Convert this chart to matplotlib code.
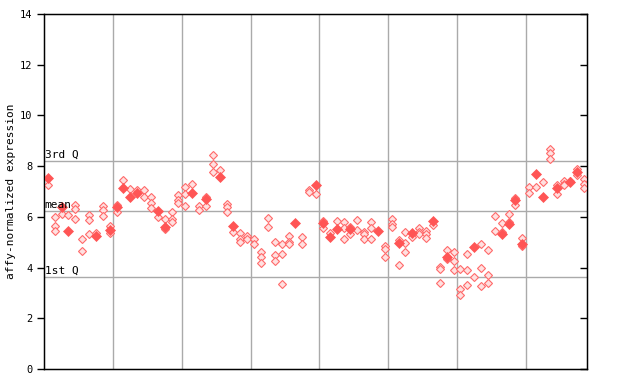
import matplotlib
matplotlib.use("Agg")
import matplotlib.pyplot as plt

# per-sample values: filled (highlighted) points and hollow (replicate) points
filled_map = {0: [7.54], 2: [6.40], 3: [5.46], 7: [5.25], 9: [5.47], 10: [6.38],
              11: [7.15], 12: [6.80], 13: [6.95], 16: [6.23], 17: [5.59], 21: [6.95],
              23: [6.70], 25: [7.57], 27: [5.64], 36: [5.74], 39: [7.27], 40: [5.74],
              41: [5.22], 42: [5.53], 44: [5.53], 48: [5.44], 51: [4.96], 53: [5.38],
              56: [5.85], 58: [4.40], 62: [4.81], 66: [5.31], 67: [5.71], 68: [6.65],
              69: [4.92], 71: [7.70], 72: [6.80], 74: [7.13], 76: [7.36], 77: [7.76]}

hollow_vals = [
    [7.24], [5.98, 5.65, 5.46], [6.11], [6.07], [6.47, 6.31, 5.90],
    [5.11, 4.67], [6.06, 5.88, 5.31], [5.35], [6.44, 6.27, 6.02], [5.64, 5.35],
    [6.48, 6.20], [7.44], [7.09], [7.06], [7.06, 6.77],
    [6.77, 6.53, 6.34], [5.98], [5.90, 5.51], [6.18, 5.90, 5.81], [6.85, 6.66, 6.56],
    [7.16, 6.89, 6.41], [7.30], [6.41, 6.27], [6.77, 6.41], [8.43, 8.07, 7.76],
    [7.84], [6.49, 6.37, 6.20], [5.39], [5.35, 5.14, 5.00], [5.24, 5.14],
    [5.14, 4.92], [4.60, 4.40, 4.17], [5.94, 5.59], [5.00, 4.48, 4.25], [4.92, 4.52, 3.34],
    [5.23, 5.00, 4.92], [], [5.21, 4.92], [7.05, 6.97], [6.89],
    [5.82, 5.57], [5.35], [5.82], [5.78, 5.55, 5.11], [5.59, 5.31],
    [5.86, 5.47], [5.39, 5.31, 5.11], [5.78, 5.55, 5.11], [], [4.84, 4.72, 4.40],
    [5.90, 5.71, 5.61], [5.08, 4.09], [5.39, 4.96, 4.60], [5.19], [5.55, 5.41, 5.31],
    [5.44, 5.31, 5.17], [5.67], [4.03, 3.95, 3.38], [4.68, 4.32], [4.60, 4.25, 3.89],
    [3.93, 3.15, 2.90], [4.52, 3.89, 3.30], [3.62], [4.92, 3.97, 3.26], [4.68, 3.70, 3.38],
    [6.02, 5.43], [5.74, 5.39], [6.10, 5.78], [6.73, 6.45], [5.15, 4.84],
    [7.16, 6.93], [7.16], [7.36], [8.66, 8.51, 8.27], [7.24, 6.89],
    [7.40, 7.30, 7.24], [7.40], [7.88, 7.64], [7.48, 7.28, 7.13],
]

n_samples = len(hollow_vals)
group_size = 10
q3, mean_v, q1 = 8.21, 6.23, 3.62
yticks = [0, 2, 4, 6, 8, 10, 12, 14]

fig = plt.figure(figsize=(6.4, 3.84), dpi=100)
ax = fig.add_axes([44 / 640, 15 / 384, (587 - 44) / 640, (369 - 14) / 384])

red = "#ff5555"
for line_y in (q3, mean_v, q1):
    ax.axhline(line_y, color="#aaaaaa", lw=1, zorder=1)
for g in range(1, (n_samples + group_size - 1) // group_size):
    ax.axvline(g * group_size - 0.5, color="#aaaaaa", lw=1, zorder=1)

hx, hy = [], []
for i, vals in enumerate(hollow_vals):
    for v in vals:
        hx.append(i)
        hy.append(v)
fx, fy = [], []
for i in range(n_samples):
    for v in filled_map.get(i, []):
        fx.append(i)
        fy.append(v)

ax.plot(hx, hy, linestyle="none", marker="D", markersize=4.0,
        markerfacecolor="#ffe0e0", markeredgecolor="#ff6a6a", markeredgewidth=0.8, zorder=3)
ax.plot(fx, fy, linestyle="none", marker="D", markersize=4.8,
        markerfacecolor=red, markeredgecolor=red, markeredgewidth=0.5, zorder=4)

mono = "DejaVu Sans Mono"
for lbl, yv in (("3rd Q", q3), ("mean", mean_v), ("1st Q", q1)):
    ax.text(-0.45, yv + 0.06, lbl, fontsize=8, family=mono, ha="left", va="bottom", zorder=5)

ax.set_xlim(-0.55, 78.4)
ax.set_ylim(0, 14)
ax.set_yticks(yticks)
ax.set_yticklabels([str(t) for t in yticks], family=mono, fontsize=7.5)
ax.set_xticks([])
ax.tick_params(axis="y", direction="out", length=5, width=1)
ax.set_ylabel("affy-normalized expression", family=mono, fontsize=8)
ax.yaxis.set_label_coords(-0.052, 0.5)
for s in ax.spines.values():
    s.set_color("black")
    s.set_linewidth(1)

ax2 = ax.twinx()
ax2.set_ylim(0, 14)
ax2.set_yticks(yticks)
ax2.tick_params(axis="y", direction="in", length=5, width=1, labelright=False)

fig.savefig("out.png", dpi=100, facecolor="white")
